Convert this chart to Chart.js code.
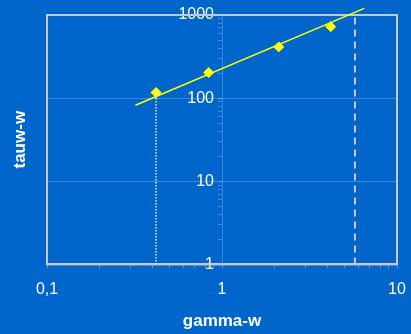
<!DOCTYPE html>
<html>
<head>
<meta charset="utf-8">
<script src="https://cdn.jsdelivr.net/npm/chart.js@4/dist/chart.umd.min.js"></script>
<style>
  html, body { margin: 0; padding: 0; background: #0066cc; }
  #wrap { width: 411px; height: 334px; }
</style>
</head>
<body>
<div id="wrap"><canvas id="c" width="411" height="334"></canvas></div>
<script>
// measured points
const gammaW = [0.42, 0.84, 2.11, 4.18];
const tauwW = [117, 203, 413, 724];

// power-law fit line
const fitX = [0.32, 6.5];
const fitY = [82, 1200];

// reference markers
const dottedX = [0.42, 0.42];
const dottedY = [1, 117];
const dashedX = [5.75, 5.75];
const dashedY = [1, 1000];

// axis ticks
const xTicks = [0.1, 0.2, 0.3, 0.4, 0.5, 0.6, 0.7, 0.8, 0.9, 1, 2, 3, 4, 5, 6, 7, 8, 9, 10];
const xLabels = { 0.1: '0,1', 1: '1', 10: '10' };
const yTicks = [1, 2, 3, 4, 5, 6, 7, 8, 9, 10, 20, 30, 40, 50, 60, 70, 80, 90, 100, 200, 300, 400, 500, 600, 700, 800, 900, 1000];
const yLabels = { 1: '1', 10: '10', 100: '100', 1000: '1000' };

const pts = (xs, ys) => xs.map((x, i) => ({ x, y: ys[i] }));

const frame = {
  id: 'frame',
  beforeDatasetsDraw(chart) {
    const { ctx, chartArea: a } = chart;
    ctx.save();
    ctx.strokeStyle = '#c8c8c8';
    ctx.lineWidth = 2;
    ctx.strokeRect(a.left, a.top, a.right - a.left, a.bottom - a.top);
    ctx.restore();
  },
  afterDraw(chart) {
    const { ctx, chartArea: a } = chart;
    ctx.save();
    ctx.fillStyle = '#ffffff';
    ctx.font = 'bold 17px "Liberation Sans", Arial, sans-serif';
    ctx.textAlign = 'center';
    ctx.textBaseline = 'middle';
    ctx.translate(20, (a.top + a.bottom) / 2);
    ctx.rotate(-Math.PI / 2);
    ctx.fillText('tauw-w', 0, 0);
    ctx.restore();
  }
};

// the frame is set by layout padding alone, not by label overhang
const noSidePadding = s => { s.paddingLeft = 0; s.paddingRight = 0; };
const noEndPadding = s => { s.paddingTop = 0; s.paddingBottom = 0; };
const setYTicks = s => { s.ticks = yTicks.map(v => ({ value: v })); };
const font16 = { family: '"Liberation Sans", Arial, sans-serif', size: 16 };

new Chart(document.getElementById('c'), {
  type: 'scatter',
  data: {
    datasets: [
      {
        data: pts(dottedX, dottedY), showLine: true, pointRadius: 0,
        borderColor: '#e8e8f0', borderWidth: 1.5, borderDash: [1.5, 1.5]
      },
      {
        data: pts(dashedX, dashedY), showLine: true, pointRadius: 0,
        borderColor: '#c8c8d8', borderWidth: 2, borderDash: [7, 5]
      },
      {
        data: pts(fitX, fitY), showLine: true, pointRadius: 0,
        borderColor: '#ffff00', borderWidth: 1.5, clip: false
      },
      {
        data: pts(gammaW, tauwW), pointStyle: 'rectRot', pointRadius: 5,
        backgroundColor: '#ffff00', borderColor: '#ffff00', borderWidth: 1
      }
    ]
  },
  options: {
    responsive: false,
    animation: false,
    layout: { padding: { left: 47, right: 14, top: 15, bottom: 2 } },
    plugins: { legend: { display: false }, tooltip: { enabled: false } },
    scales: {
      x: {
        type: 'logarithmic', min: 0.1, max: 10, position: 'bottom',
        afterBuildTicks: s => { s.ticks = xTicks.map(v => ({ value: v })); },
        afterFit: noSidePadding,
        ticks: {
          autoSkip: false, maxRotation: 0, padding: 12,
          color: '#ffffff', font: font16,
          callback: v => xLabels[v] ?? ''
        },
        grid: {
          drawOnChartArea: true,
          color: 'rgba(0,0,0,0)',
          tickColor: 'rgba(255,255,255,0.3)',
          tickLength: 4
        },
        border: { color: '#c8c8c8', width: 2 },
        title: {
          display: true, text: 'gamma-w', color: '#ffffff', padding: { top: 0, bottom: 0 },
          font: { family: '"Liberation Sans", Arial, sans-serif', size: 17, weight: 'bold' }
        }
      },
      // value axis crossing at gamma-w = 1: axis line, grid and tick marks
      y: {
        type: 'logarithmic', min: 1, max: 1000, position: { x: 1 },
        afterBuildTicks: setYTicks,
        afterFit: noEndPadding,
        ticks: { autoSkip: false, padding: 0, callback: () => '' },
        grid: {
          color: c => (c.tick && (c.tick.value === 10 || c.tick.value === 100)) ? '#3a88d8' : 'rgba(0,0,0,0)',
          tickColor: 'rgba(255,255,255,0.25)',
          tickLength: 4
        },
        border: { color: '#3a88d8', width: 1 }
      },
      // decade labels set just left of the crossing axis
      yText: {
        type: 'logarithmic', min: 1, max: 1000, position: { x: 0.9 },
        afterBuildTicks: setYTicks,
        afterFit: noEndPadding,
        ticks: {
          autoSkip: false, padding: 0,
          color: '#ffffff', font: font16,
          callback: v => yLabels[v] ?? ''
        },
        grid: { drawOnChartArea: false, drawTicks: false },
        border: { display: false }
      }
    }
  },
  plugins: [frame]
});
</script>
</body>
</html>
